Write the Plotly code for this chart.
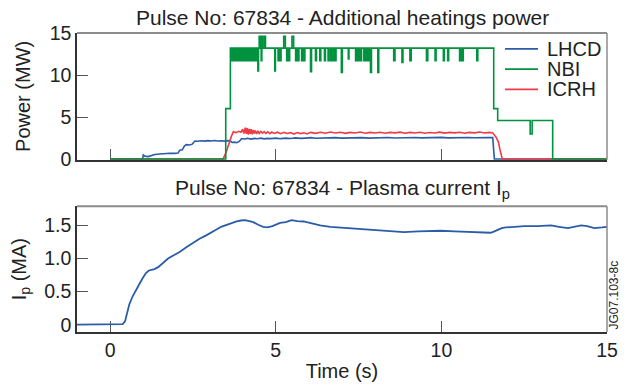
import plotly.graph_objects as go

# ---------------- data ----------------
LHCD_T = [0.0, 0.98, 1.00, 1.05, 1.15, 1.25, 1.35, 1.50, 1.65, 1.80, 1.95, 2.05, 2.10, 2.18, 2.24, 2.30,
          2.40, 2.48, 2.56, 2.65, 2.75, 2.85, 2.95, 3.05, 3.15, 3.25, 3.35, 3.45, 3.55, 3.62, 3.68, 3.75,
          3.82, 3.90, 3.97, 4.05, 4.15, 4.25, 4.35, 4.45, 4.55, 4.65, 4.75, 4.85, 5.00, 5.15, 5.30, 5.45,
          5.60, 5.75, 5.90, 6.05, 6.20, 6.40, 6.60, 6.80, 7.00, 7.20, 7.40, 7.60, 7.80, 8.00, 8.20, 8.40,
          8.60, 8.80, 9.00, 9.20, 9.40, 9.60, 9.80, 10.0, 10.2, 10.4, 10.6, 10.8, 11.0, 11.2, 11.4, 11.55,
          11.60, 15.0]
LHCD_P = [0.0, 0.0, 0.50, 0.35, 0.30, 0.42, 0.55, 0.60, 0.66, 0.70, 0.68, 0.72, 1.05, 1.10, 1.55, 1.72,
          1.68, 1.78, 2.15, 2.12, 2.18, 2.14, 2.20, 2.16, 2.22, 2.15, 2.19, 2.14, 2.20, 2.17, 1.98, 2.02,
          1.95, 2.10, 2.45, 2.40, 2.47, 2.38, 2.46, 2.42, 2.49, 2.41, 2.47, 2.44, 2.50, 2.43, 2.49, 2.45,
          2.52, 2.46, 2.50, 2.55, 2.48, 2.53, 2.50, 2.55, 2.49, 2.54, 2.51, 2.56, 2.50, 2.55, 2.52, 2.57,
          2.51, 2.55, 2.53, 2.57, 2.52, 2.56, 2.54, 2.58, 2.52, 2.56, 2.53, 2.57, 2.54, 2.58, 2.55, 2.56,
          0.0, 0.0]

ICRH_T = [0.0, 3.41, 3.50, 3.58, 3.66, 3.72, 3.80, 3.88, 3.95, 4.00, 4.04, 4.08, 4.11, 4.14, 4.17, 4.20,
          4.23, 4.26, 4.29, 4.32, 4.35, 4.38, 4.42, 4.46, 4.50, 4.55, 4.60, 4.65, 4.70, 4.76, 4.82, 4.88,
          4.95, 5.05, 5.15, 5.25, 5.35, 5.45, 5.55, 5.65, 5.75, 5.85, 5.95, 6.05, 6.20, 6.35, 6.50, 6.65,
          6.80, 6.95, 7.10, 7.25, 7.40, 7.55, 7.70, 7.85, 8.00, 8.15, 8.30, 8.45, 8.60, 8.75, 8.90, 9.05,
          9.20, 9.35, 9.50, 9.65, 9.80, 9.95, 10.10, 10.25, 10.40, 10.55, 10.70, 10.85, 11.00, 11.15, 11.30,
          11.45, 11.55, 11.65, 11.72, 11.77, 11.84, 15.0]
ICRH_P = [0.0, 0.0, 0.80, 1.80, 2.70, 3.25, 3.15, 3.30, 3.20, 3.55, 3.05, 3.75, 3.00, 3.70, 2.90, 3.60,
          3.00, 3.55, 2.95, 3.45, 3.05, 3.40, 3.00, 3.35, 3.05, 3.30, 3.10, 3.28, 3.05, 3.25, 3.02, 3.22,
          3.05, 3.20, 3.02, 3.18, 3.05, 3.15, 2.98, 3.16, 3.04, 3.14, 3.00, 3.18, 3.06, 3.20, 3.08, 3.22,
          3.10, 3.20, 3.06, 3.18, 3.10, 3.22, 3.08, 3.18, 3.10, 3.20, 3.07, 3.18, 3.12, 3.21, 3.08, 3.18,
          3.10, 3.20, 3.08, 3.17, 3.11, 3.21, 3.09, 3.18, 3.12, 3.20, 3.08, 3.18, 3.12, 3.22, 3.10,
          3.18, 3.12, 2.60, 2.05, 1.10, 0.0, 0.0]

NBI_T = [0.00, 3.49, 3.63,
         3.66, 3.69, 3.72, 3.76, 3.79, 3.82, 3.85, 3.89, 3.92, 3.95, 3.99, 4.02, 4.05, 4.09, 4.12, 4.15,
         4.19, 4.22, 4.26, 4.29, 4.33, 4.36, 4.40, 4.43,
         4.46, 4.48, 4.50, 4.53, 4.56, 4.58, 4.61, 4.66, 4.69,
         4.97, 4.99, 5.07, 5.10, 5.13, 5.16,
         5.24, 5.29, 5.33, 5.36, 5.39, 5.42,
         5.49, 5.54, 5.60, 5.63, 5.67, 5.70,
         5.78, 5.81, 5.85, 5.88, 6.05, 6.08,
         6.20, 6.23, 6.33, 6.36, 6.47, 6.50, 6.58, 6.61,
         6.66, 6.69, 6.72, 6.75, 6.78, 6.82, 6.98, 7.01, 7.19, 7.21,
         7.41, 7.44, 7.48, 7.51, 7.55, 7.59, 7.66, 7.69, 7.73, 7.76, 7.79, 7.82,
         7.86, 7.89, 8.08, 8.11, 8.56, 8.60, 8.81, 8.84, 9.05, 9.09, 9.55, 9.59,
         9.81, 9.84, 10.06, 10.09, 10.19, 10.22, 10.55, 10.58, 10.62, 10.66, 11.07, 11.10,
         11.58, 11.70, 12.68, 12.74, 13.36, 15.0]
NBI_P = [0.0, 6.0, 13.2,
         11.7, 13.2, 11.7, 13.2, 11.7, 13.2, 11.7, 13.2, 11.7, 13.2, 11.7, 13.2, 11.7, 13.2, 11.7, 13.2,
         11.7, 13.2, 11.7, 13.2, 11.7, 13.2, 11.7, 13.2,
         10.5, 13.2, 14.6, 13.2, 11.7, 14.6, 13.2, 14.6, 13.2,
         10.5, 13.2, 11.7, 13.2, 11.7, 13.2,
         14.6, 13.2, 11.7, 13.2, 11.7, 13.2,
         14.6, 13.2, 11.7, 13.2, 11.7, 13.2,
         11.7, 13.2, 11.7, 13.2, 10.4, 13.2,
         11.7, 13.2, 11.7, 13.2, 11.7, 13.2, 11.7, 13.2,
         11.7, 13.2, 11.7, 13.2, 11.7, 13.2, 10.3, 13.2, 11.9, 13.2,
         11.7, 13.2, 11.7, 13.2, 11.7, 13.2, 11.7, 13.2, 11.7, 13.2, 11.7, 13.2,
         10.3, 13.2, 10.3, 13.2, 11.7, 13.2, 11.5, 13.2, 11.7, 13.2, 11.7, 13.2,
         11.7, 13.2, 11.7, 13.2, 11.7, 13.2, 11.7, 13.2, 11.7, 13.2, 11.7, 13.2,
         6.0, 4.6, 3.0, 4.6, 0.0, 0.0]

IP_T = [-1.0, -0.5, 0.0, 0.38, 0.45, 0.52, 0.58, 0.68, 0.79, 0.90, 0.99, 1.08, 1.17, 1.34, 1.45, 1.60,
        1.75, 1.92, 2.10, 2.30, 2.50, 2.70, 2.90, 3.05, 3.21, 3.35, 3.52, 3.68, 3.82, 3.95, 4.07, 4.20,
        4.32, 4.47, 4.62, 4.75, 4.90, 5.13, 5.30, 5.48, 5.65, 5.84, 6.10, 6.34, 6.65, 6.95, 7.25, 7.55,
        7.85, 8.16, 8.50, 8.87, 9.30, 9.65, 9.98, 10.40, 10.79, 11.20, 11.49, 11.60, 11.70, 11.82, 11.95,
        12.20, 12.50, 12.90, 13.31, 13.55, 13.82, 14.00, 14.22, 14.40, 14.62, 14.85, 15.0]
IP_I = [0.00, 0.00, 0.00, 0.01, 0.05, 0.18, 0.31, 0.43, 0.54, 0.63, 0.71, 0.78, 0.82, 0.84, 0.87, 0.94,
        1.00, 1.05, 1.10, 1.17, 1.24, 1.30, 1.35, 1.40, 1.44, 1.48, 1.51, 1.54, 1.56, 1.575, 1.58, 1.565,
        1.55, 1.51, 1.48, 1.47, 1.49, 1.54, 1.55, 1.58, 1.565, 1.56, 1.53, 1.50, 1.48, 1.47, 1.45, 1.45,
        1.43, 1.42, 1.41, 1.40, 1.41, 1.42, 1.42, 1.41, 1.40, 1.39, 1.39, 1.41, 1.43, 1.46, 1.47,
        1.48, 1.49, 1.49, 1.50, 1.48, 1.46, 1.48, 1.50, 1.49, 1.46, 1.47, 1.48]

X_TICKS = [0, 5, 10, 15]
P_TICKS = [0, 5, 10, 15]
IP_TICKVALS = [0, 0.5, 1.0, 1.5]
IP_TICKTEXT = ["0", "0.5", "1.0", "1.5"]

LEGEND_NAMES = ["LHCD", "NBI", "ICRH"]

TITLE_TOP = "Pulse No: 67834 - Additional heatings power"
TITLE_BOT = "Pulse No: 67834 - Plasma current I<sub>p</sub>"

# ---------------- figure ----------------
BLUE = "#2a5caa"
GREEN = "#00923f"
RED = "#ee3b45"
COLORS = {"LHCD": BLUE, "NBI": GREEN, "ICRH": RED}
FONT = "Liberation Sans, Arial, sans-serif"
DARK = "#333333"
FRAME = "#8c8c8c"

fig = go.Figure()
fig.add_trace(go.Scatter(x=LHCD_T, y=LHCD_P, mode="lines", name="LHCD",
                         line=dict(color=BLUE, width=1.6), xaxis="x", yaxis="y"))
fig.add_trace(go.Scatter(x=ICRH_T, y=ICRH_P, mode="lines", name="ICRH",
                         line=dict(color=RED, width=1.6), xaxis="x", yaxis="y"))
fig.add_trace(go.Scatter(x=NBI_T, y=NBI_P, mode="lines", name="NBI", line_shape="hv",
                         line=dict(color=GREEN, width=1.6), xaxis="x", yaxis="y"))
fig.add_trace(go.Scatter(x=IP_T, y=IP_I, mode="lines", name="Ip",
                         line=dict(color=BLUE, width=1.8), xaxis="x2", yaxis="y2"))

axis_common = dict(showgrid=False, zeroline=False, showline=True, linecolor=DARK, linewidth=1.5,
                   ticks="inside", ticklen=11, tickwidth=1.3, tickcolor="#555555",
                   tickfont=dict(family=FONT, size=19.5, color="#222222"), layer="below traces")

fig.update_layout(
    width=630, height=391,
    margin=dict(l=77, r=23, t=33, b=56),
    paper_bgcolor="white", plot_bgcolor="white",
    font=dict(family=FONT, color="#222222"),
    showlegend=False,
    xaxis=dict(axis_common, range=[-1, 15], tickvals=X_TICKS, showticklabels=False, anchor="y"),
    yaxis=dict(axis_common, range=[-0.08, 15], tickvals=P_TICKS, domain=[0.576, 1.0], anchor="x",
               title=dict(text="Power (MW)", font=dict(family=FONT, size=20), standoff=14)),
    xaxis2=dict(axis_common, range=[-1, 15], tickvals=X_TICKS, anchor="y2",
                title=dict(text="Time (s)", font=dict(family=FONT, size=20), standoff=4)),
    yaxis2=dict(axis_common, range=[-0.11, 1.79], tickvals=IP_TICKVALS, ticktext=IP_TICKTEXT,
                domain=[0.0, 0.4205], anchor="x2",
                title=dict(text="I<sub>p</sub> (MA)", font=dict(family=FONT, size=20), standoff=12)),
)

# top/right frame lines (lighter gray)
for xr, yr in (("x", "y"), ("x2", "y2")):
    fig.add_shape(type="line", xref=f"{xr} domain", yref=f"{yr} domain", x0=0, x1=1, y0=1, y1=1,
                  line=dict(color=FRAME, width=2))
    fig.add_shape(type="line", xref=f"{xr} domain", yref=f"{yr} domain", x0=1, x1=1, y0=0, y1=1,
                  line=dict(color=FRAME, width=1.5))

# legend (drawn manually to match compact row spacing)
PLOT_L, PLOT_W, PLOT_B, PLOT_H = 77, 530, 335, 302
def px_x(p):
    return (p - PLOT_L) / PLOT_W
def px_y(p):
    return (PLOT_B - p) / PLOT_H
for i, name in enumerate(LEGEND_NAMES):
    ypix = 49 + i * 20.5
    fig.add_shape(type="line", xref="paper", yref="paper", x0=px_x(505), x1=px_x(538),
                  y0=px_y(ypix), y1=px_y(ypix), line=dict(color=COLORS[name], width=1.8))
    fig.add_annotation(text=name, xref="paper", yref="paper", x=px_x(545), y=px_y(ypix),
                       xanchor="left", yanchor="middle", showarrow=False,
                       font=dict(family=FONT, size=20, color="#222222"))

fig.add_annotation(text=TITLE_TOP, xref="paper", yref="paper", x=0.5, y=1.0, yshift=2,
                   xanchor="center", yanchor="bottom", showarrow=False,
                   font=dict(family=FONT, size=21, color="#222222"))
fig.add_annotation(text=TITLE_BOT, xref="paper", yref="paper", x=0.5, y=0.4205, yshift=2,
                   xanchor="center", yanchor="bottom", showarrow=False,
                   font=dict(family=FONT, size=21, color="#222222"))
fig.add_annotation(text="JG07.103-8c", xref="paper", yref="paper", x=1.0, xshift=6, y=0.0,
                   xanchor="center", yanchor="bottom", textangle=-90, showarrow=False,
                   font=dict(family=FONT, size=12, color="#222222"))

fig.write_html("out.html")
